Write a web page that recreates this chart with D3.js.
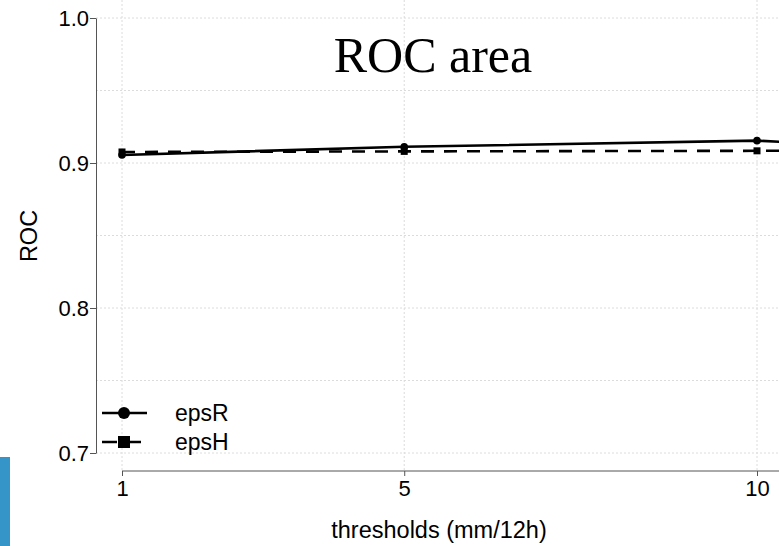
<!DOCTYPE html>
<html>
<head>
<meta charset="utf-8">
<script src="https://cdn.jsdelivr.net/npm/d3@7"></script>
<style>
  body { margin: 0; background: #fff; }
  svg text { font-family: "Liberation Sans", Arial, sans-serif; }
</style>
</head>
<body>
<div id="chart"></div>
<script>
// chart data
const thresholds = [1, 5, 10, 20];
const epsR = [0.9055, 0.9112, 0.9154, 0.893];
const epsH = [0.9076, 0.9080, 0.9084, 0.9084];
const xTicks = [1, 5, 10];
const yTicks = [0.7, 0.8, 0.9, 1.0];
const yGrid = [0.7, 0.75, 0.8, 0.85, 0.9, 0.95, 1.0];

const width = 779;
const height = 546;

const svg = d3.select("#chart").append("svg")
    .attr("width", width)
    .attr("height", height);

// scales
const x = d3.scaleLinear().domain([1, 10]).range([122, 757]);
const y = d3.scaleLinear().domain([0.7, 1.0]).range([453, 18]);

// grid
const grid = svg.append("g")
    .attr("stroke", "#dcdcdc")
    .attr("stroke-width", 1)
    .attr("stroke-dasharray", "2,2");

grid.selectAll("line.h")
    .data(yGrid)
    .join("line")
    .attr("class", "h")
    .attr("x1", 96).attr("x2", width)
    .attr("y1", d => y(d)).attr("y2", d => y(d));

grid.selectAll("line.v")
    .data(xTicks)
    .join("line")
    .attr("class", "v")
    .attr("x1", d => x(d)).attr("x2", d => x(d))
    .attr("y1", 0).attr("y2", 471);

// y axis
const yAxis = svg.append("g")
    .attr("transform", "translate(96,0)")
    .call(d3.axisLeft(y).tickValues(yTicks).tickFormat(d3.format(".1f")).tickSize(6).tickSizeOuter(0));
yAxis.select(".domain").attr("stroke", "#555");
yAxis.selectAll(".tick line").attr("stroke", "#555");
yAxis.selectAll("text")
    .attr("font-size", 22)
    .attr("fill", "#000")
    .attr("x", -7)
    .attr("dy", "0.36em");

// x axis
const xAxis = svg.append("g")
    .attr("transform", "translate(0,471)")
    .call(d3.axisBottom(x).tickValues(xTicks).tickSize(5).tickSizeOuter(0));
xAxis.select(".domain").attr("d", `M${x(1)},0H${width}`).attr("stroke", "#555");
xAxis.selectAll(".tick line").attr("stroke", "#555");
xAxis.selectAll("text")
    .attr("font-size", 22)
    .attr("fill", "#000")
    .attr("y", 9);

// lines
const line = d3.line()
    .x((d, i) => x(thresholds[i]))
    .y(d => y(d));

svg.append("path")
    .datum(epsH)
    .attr("fill", "none")
    .attr("stroke", "#000")
    .attr("stroke-width", 2.6)
    .attr("stroke-dasharray", "13,10")
    .attr("d", line);

svg.append("path")
    .datum(epsR)
    .attr("fill", "none")
    .attr("stroke", "#000")
    .attr("stroke-width", 2.6)
    .attr("d", line);

// markers
svg.append("g").selectAll("rect")
    .data(epsH)
    .join("rect")
    .attr("x", (d, i) => x(thresholds[i]) - 3.5)
    .attr("y", d => y(d) - 3.5)
    .attr("width", 7)
    .attr("height", 7)
    .attr("fill", "#000");

svg.append("g").selectAll("circle")
    .data(epsR)
    .join("circle")
    .attr("cx", (d, i) => x(thresholds[i]))
    .attr("cy", d => y(d))
    .attr("r", 3.8)
    .attr("fill", "#000");

// title and labels
svg.append("text")
    .attr("x", 433)
    .attr("y", 72)
    .attr("text-anchor", "middle")
    .style("font-family", "'Liberation Serif', 'Times New Roman', serif")
    .attr("font-size", 50)
    .text("ROC area");

svg.append("text")
    .attr("x", 439)
    .attr("y", 538)
    .attr("text-anchor", "middle")
    .attr("font-size", 23.5)
    .text("thresholds (mm/12h)");

svg.append("text")
    .attr("text-anchor", "middle")
    .attr("transform", "translate(37,236)rotate(-90)")
    .attr("font-size", 23.5)
    .text("ROC");

// legend
const legend = svg.append("g");
legend.append("line")
    .attr("x1", 102).attr("x2", 147)
    .attr("y1", 413).attr("y2", 413)
    .attr("stroke", "#000").attr("stroke-width", 2.6);
legend.append("circle")
    .attr("cx", 124).attr("cy", 413).attr("r", 6)
    .attr("fill", "#000");
legend.append("text")
    .attr("x", 175).attr("y", 421)
    .attr("font-size", 23)
    .text("epsR");

legend.append("line")
    .attr("x1", 102).attr("x2", 141)
    .attr("y1", 442).attr("y2", 442)
    .attr("stroke", "#000").attr("stroke-width", 2.6)
    .attr("stroke-dasharray", "15,11");
legend.append("rect")
    .attr("x", 118).attr("y", 436).attr("width", 12).attr("height", 12)
    .attr("fill", "#000");
legend.append("text")
    .attr("x", 175).attr("y", 450)
    .attr("font-size", 23)
    .text("epsH");

// blue side strip
svg.append("rect")
    .attr("x", 0).attr("y", 457)
    .attr("width", 10).attr("height", height - 457)
    .attr("fill", "#3594c8");
</script>
</body>
</html>
